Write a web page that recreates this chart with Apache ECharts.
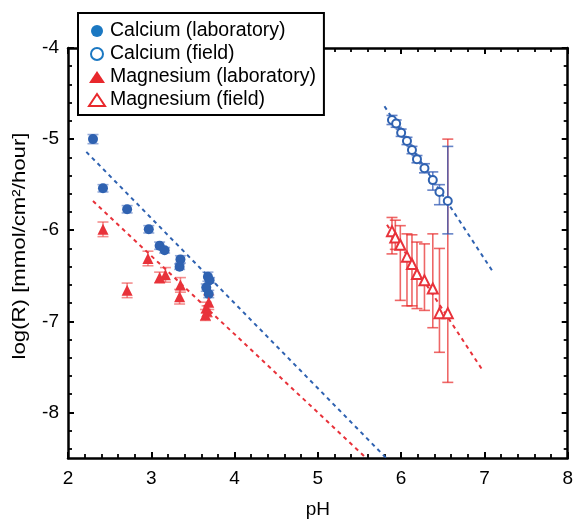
<!DOCTYPE html>
<html>
<head>
<meta charset="utf-8">
<script src="https://cdn.jsdelivr.net/npm/echarts@6/dist/echarts.min.js"></script>
<style>html,body{margin:0;padding:0;background:#fff;}#c{width:576px;height:524px;}</style>
</head>
<body>
<div id="c"></div>
<script>
// ---- Data ----
const caLabX   = [2.30, 2.42, 2.71, 2.97, 3.10, 3.16, 3.35, 3.34, 3.68, 3.70, 3.66, 3.69];
const caLabY   = [-5.00, -5.54, -5.77, -5.99, -6.17, -6.22, -6.32, -6.40, -6.51, -6.55, -6.63, -6.70];
const caLabErr = [0.05, 0.04, 0.04, 0.04, 0.04, 0.03, 0.04, 0.03, 0.05, 0.03, 0.04, 0.04];

const mgLabX   = [2.42, 2.71, 2.96, 3.10, 3.17, 3.35, 3.34, 3.69, 3.66, 3.67, 3.65];
const mgLabY   = [-5.99, -6.66, -6.31, -6.52, -6.49, -6.60, -6.73, -6.79, -6.85, -6.89, -6.93];
const mgLabErr = [0.08, 0.08, 0.08, 0.06, 0.08, 0.08, 0.08, 0.08, 0.06, 0.06, 0.06];

const caFieldX    = [5.89, 5.94, 6.00, 6.07, 6.13, 6.19, 6.28, 6.38, 6.46, 6.56];
const caFieldY    = [-4.79, -4.83, -4.93, -5.02, -5.12, -5.22, -5.32, -5.45, -5.58, -5.68];
const caFieldLow  = [-4.84, -4.87, -4.97, -5.06, -5.16, -5.26, -5.37, -5.56, -5.72, -6.04];
const caFieldHigh = [-4.74, -4.79, -4.89, -4.98, -5.08, -5.18, -5.27, -5.36, -5.50, -5.08];

const mgFieldX    = [5.89, 5.93, 5.99, 6.07, 6.13, 6.19, 6.28, 6.38, 6.46, 6.56];
const mgFieldY    = [-6.01, -6.08, -6.16, -6.29, -6.37, -6.48, -6.55, -6.64, -6.91, -6.91];
const mgFieldLow  = [-6.26, -6.21, -6.77, -6.83, -6.83, -6.86, -6.88, -7.07, -7.34, -7.67];
const mgFieldHigh = [-5.86, -5.89, -5.95, -6.04, -6.05, -6.13, -6.15, -6.04, -6.20, -5.00];

// fitted (dashed) trend lines: end points [pH, logR]
const caLabFit   = [[2.22, -5.14], [5.82, -8.50]];
const mgLabFit   = [[2.30, -5.68], [5.58, -8.50]];
const caFieldFit = [[5.80, -4.64], [7.09, -6.44]];
const mgFieldFit = [[5.83, -5.94], [6.98, -7.54]];

const xMin = 2, xMax = 8, xStep = 1;
const yMin = -8.5, yMax = -4;
const yMajor = [-8, -7, -6, -5, -4];
const yMinor = [-8.4, -8.2, -7.8, -7.6, -7.4, -7.2, -6.8, -6.6, -6.4, -6.2,
                -5.8, -5.6, -5.4, -5.2, -4.8, -4.6, -4.4, -4.2];

const names = ['Calcium (laboratory)', 'Calcium (field)', 'Magnesium (laboratory)', 'Magnesium (field)'];

// ---- Styles ----
const FONT = '"Liberation Sans", Arial, sans-serif';
const BLUE = '#2f62b1';
const RED = '#e8323a';
const BLUE_ERR = 'rgba(60,100,185,0.55)';
const BLUE_ERR2 = 'rgba(50,90,180,0.75)';
const RED_ERR = 'rgba(235,50,50,0.55)';
const RED_ERR2 = 'rgba(232,45,45,0.72)';
const LEG_BLUE = '#1b78c2';
const LEG_RED = '#e8282c';

function zip(xs, ys) { return xs.map((x, i) => [x, ys[i]]); }

function errSeries(xs, lo, hi, color, capW) {
  return {
    type: 'custom', silent: true, z: 1,
    xAxisIndex: 0, yAxisIndex: 0,
    data: xs.map((x, i) => [x, lo[i], hi[i]]),
    encode: { x: 0, y: [1, 2] },
    renderItem: function (params, api) {
      const x = api.value(0);
      const pL = api.coord([x, api.value(1)]);
      const pH = api.coord([x, api.value(2)]);
      const hw = capW / 2;
      const st = { stroke: color, lineWidth: 1.6 };
      return {
        type: 'group',
        children: [
          { type: 'line', shape: { x1: pL[0], y1: pL[1], x2: pH[0], y2: pH[1] }, style: st },
          { type: 'line', shape: { x1: pL[0] - hw, y1: pL[1], x2: pL[0] + hw, y2: pL[1] }, style: st },
          { type: 'line', shape: { x1: pH[0] - hw, y1: pH[1], x2: pH[0] + hw, y2: pH[1] }, style: st }
        ]
      };
    }
  };
}

function fitSeries(pts, color) {
  return {
    type: 'line', data: pts, symbol: 'none', silent: true, z: 1,
    xAxisIndex: 0, yAxisIndex: 0, clip: true,
    lineStyle: { color: color, width: 2, type: [4, 4] }
  };
}

const axisLineStyle = { color: '#000', width: 2.5 };
const majorTick = { inside: true, length: 6, lineStyle: { color: '#000', width: 2 } };
const minorTick = { inside: true, length: 4, lineStyle: { color: '#000', width: 1.8 } };

function xAxisCfg(pos, showLabel) {
  return {
    type: 'value', min: xMin, max: xMax, interval: xStep, position: pos,
    axisLine: { show: true, onZero: false, lineStyle: axisLineStyle },
    axisTick: majorTick,
    minorTick: { show: true, splitNumber: 5, length: 4, lineStyle: { color: '#000', width: 1.8 } },
    splitLine: { show: false }, minorSplitLine: { show: false },
    axisLabel: { show: showLabel, fontSize: 19, color: '#000', fontFamily: FONT, margin: 11 },
    name: showLabel ? 'pH' : '', nameLocation: 'middle', nameGap: 42,
    nameTextStyle: { fontSize: 19, color: '#000', fontFamily: FONT }
  };
}

function yAxisCfg(pos, major, showLine, showLabel) {
  return {
    type: 'value', min: yMin, max: yMax, position: pos,
    axisLine: { show: showLine, onZero: false, lineStyle: axisLineStyle },
    axisTick: Object.assign({}, major ? majorTick : minorTick, { customValues: major ? yMajor : yMinor }),
    splitLine: { show: false },
    axisLabel: { show: showLabel, customValues: yMajor, fontSize: 19, color: '#000', fontFamily: FONT, margin: 9 }
  };
}

const option = {
  backgroundColor: '#fff',
  animation: false,
  grid: { left: 68, right: 7, top: 48, bottom: 56, containLabel: false },
  xAxis: [xAxisCfg('bottom', true), xAxisCfg('top', false)],
  yAxis: [
    yAxisCfg('left', true, true, true),
    yAxisCfg('left', false, false, false),
    yAxisCfg('right', true, true, false),
    yAxisCfg('right', false, false, false)
  ],
  legend: {
    left: 78, top: 13, orient: 'vertical',
    backgroundColor: '#fff', borderColor: '#000', borderWidth: 2,
    padding: [8, 8, 5, 10], itemGap: 3, itemWidth: 16, itemHeight: 12,
    textStyle: { fontSize: 19.5, color: '#000', fontFamily: FONT, lineHeight: 20 },
    data: [
      { name: names[0], itemStyle: { color: LEG_BLUE } },
      { name: names[1], itemStyle: { color: LEG_BLUE, borderColor: LEG_BLUE } },
      { name: names[2], itemStyle: { color: LEG_RED } },
      { name: names[3], itemStyle: { color: LEG_RED, borderColor: LEG_RED } }
    ]
  },
  graphic: [{
    type: 'text', x: 20, y: 246, rotation: Math.PI / 2, scaleX: 1.2,
    style: { text: 'log(R) [mmol/cm²/hour]', font: '18.5px ' + FONT, fill: '#000', align: 'center', verticalAlign: 'middle' }
  }],
  series: [
    fitSeries(caLabFit, BLUE),
    fitSeries(mgLabFit, RED),
    fitSeries(caFieldFit, BLUE),
    fitSeries(mgFieldFit, RED),
    errSeries(caLabX, caLabY.map((y, i) => y - caLabErr[i]), caLabY.map((y, i) => y + caLabErr[i]), BLUE_ERR, 11),
    errSeries(mgLabX, mgLabY.map((y, i) => y - mgLabErr[i]), mgLabY.map((y, i) => y + mgLabErr[i]), RED_ERR, 11),
    errSeries(mgFieldX, mgFieldLow, mgFieldHigh, RED_ERR2, 11),
    errSeries(caFieldX, caFieldLow, caFieldHigh, BLUE_ERR2, 11),
    {
      name: names[0], type: 'scatter', symbol: 'circle', symbolSize: 10, z: 3,
      data: zip(caLabX, caLabY), itemStyle: { color: BLUE, opacity: 1 }
    },
    {
      name: names[1], type: 'scatter', symbol: 'emptyCircle', symbolSize: 8, z: 3,
      data: zip(caFieldX, caFieldY), itemStyle: { color: BLUE, borderColor: BLUE, borderWidth: 2, opacity: 1 }
    },
    {
      name: names[2], type: 'scatter', symbol: 'triangle', symbolSize: 11, z: 3,
      data: zip(mgLabX, mgLabY), itemStyle: { color: RED, opacity: 1 }
    },
    {
      name: names[3], type: 'scatter', symbol: 'emptyTriangle', symbolSize: 10, z: 3,
      data: zip(mgFieldX, mgFieldY), itemStyle: { color: RED, borderColor: RED, borderWidth: 3, opacity: 1 }
    }
  ]
};

const chart = echarts.init(document.getElementById('c'), null, { renderer: 'canvas' });
chart.setOption(option);
</script>
</body>
</html>
